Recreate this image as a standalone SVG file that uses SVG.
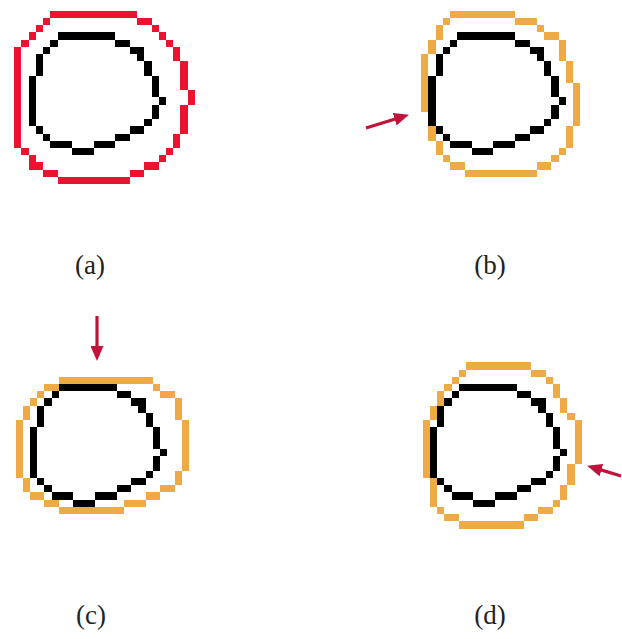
<svg xmlns="http://www.w3.org/2000/svg" width="622" height="639" viewBox="0 0 622 639">
<style>
.blk{fill:#000}
.red{fill:#ec1330}
.org{fill:#f0aa45}
.arr{stroke:#c1123a;stroke-width:3.2;fill:none}
.lbl{font-family:"Liberation Serif","Times New Roman",serif;font-size:27px;fill:#222;text-anchor:middle}
</style>
<defs>
<marker id="ah" markerWidth="15" markerHeight="13" refX="4" refY="6.5" orient="auto" markerUnits="userSpaceOnUse"><path d="M0 0L15 6.5L0 13z" fill="#c1123a"/></marker>
<path id="shape" class="blk" d="M4 0h8v1h-8z M3 1h1v1h-1z M12 1h2v1h-2z M2 2h1v1h-1z M14 2h2v1h-2z M1 3h1v3h-1z M15 3h1v1h-1z M16 4h1v2h-1z M0 6h1v7h-1z M17 6h1v3h-1z M18 9h1v1h-1z M17 10h1v2h-1z M16 12h1v1h-1z M1 13h1v1h-1z M14 13h2v1h-2z M2 14h1v1h-1z M12 14h2v1h-2z M3 15h3v1h-3z M9 15h3v1h-3z M6 16h3v1h-3z"/>
</defs>
<g id="panel-a" transform="translate(28.6,32.3) scale(7.23)" shape-rendering="crispEdges">
<path class="red" d="M3 -3h12v1h-12z M2 -2h1v1h-1z M15 -2h2v1h-2z M1 -1h1v1h-1z M17 -1h1v1h-1z M0 0h1v1h-1z M18 0h1v1h-1z M-1 1h1v1h-1z M19 1h1v1h-1z M-2 2h1v14h-1z M20 2h1v2h-1z M21 4h1v4h-1z M22 8h1v2h-1z M21 10h1v4h-1z M20 14h1v2h-1z M-1 16h1v1h-1z M19 16h1v1h-1z M0 17h1v1h-1z M18 17h1v1h-1z M0 18h2v1h-2z M16 18h2v1h-2z M2 19h2v1h-2z M14 19h2v1h-2z M4 20h10v1h-10z"/>
<use href="#shape"/>
</g>
<g id="panel-b" transform="translate(428.4,32.3) scale(7.23)" shape-rendering="crispEdges">
<path class="org" d="M3 -3h9v1h-9z M2 -2h1v1h-1z M12 -2h3v1h-3z M1 -1h1v2h-1z M15 -1h1v1h-1z M16 0h2v1h-2z M0 1h1v2h-1z M18 1h1v3h-1z M-1 3h1v8h-1z M19 4h1v3h-1z M20 7h1v6h-1z M0 13h1v2h-1z M19 13h1v3h-1z M1 15h1v2h-1z M18 16h1v1h-1z M2 17h1v1h-1z M17 17h1v1h-1z M3 18h2v1h-2z M15 18h2v1h-2z M5 19h10v1h-10z"/>
<use href="#shape"/>
</g>
<g id="panel-c" transform="translate(30,384) scale(7.23)" shape-rendering="crispEdges">
<path class="org" d="M4 -1h13v1h-13z M2 0h2v1h-2z M17 0h1v1h-1z M1 1h1v1h-1z M18 1h2v1h-2z M0 2h1v1h-1z M20 2h1v3h-1z M-1 3h1v2h-1z M-2 5h1v8h-1z M21 5h1v7h-1z M20 12h1v2h-1z M-1 13h1v2h-1z M18 14h2v1h-2z M0 15h2v1h-2z M16 15h2v1h-2z M2 16h2v1h-2z M13 16h3v1h-3z M4 17h9v1h-9z"/>
<use href="#shape"/>
</g>
<g id="panel-d" transform="translate(430,384) scale(7.23)" shape-rendering="crispEdges">
<path class="org" d="M5 -3h9v1h-9z M4 -2h1v1h-1z M14 -2h2v1h-2z M3 -1h1v1h-1z M16 -1h1v1h-1z M2 0h1v1h-1z M17 0h1v2h-1z M1 1h1v2h-1z M18 2h1v2h-1z M0 3h1v2h-1z M19 4h1v1h-1z M-1 5h1v8h-1z M20 5h1v6h-1z M19 11h1v3h-1z M0 13h1v4h-1z M18 14h1v2h-1z M17 16h1v1h-1z M1 17h1v1h-1z M15 17h2v1h-2z M2 18h2v1h-2z M13 18h2v1h-2z M4 19h9v1h-9z"/>
<use href="#shape"/>
</g>
<g id="connectors">
<line class="arr" x1="366" y1="128" x2="398.5" y2="118" marker-end="url(#ah)"/>
<line class="arr" x1="97" y1="316" x2="97" y2="350" marker-end="url(#ah)"/>
<line class="arr" x1="621" y1="476" x2="597.6" y2="468.9" marker-end="url(#ah)"/>
</g>
<g id="labels">
<text class="lbl" x="90" y="274">(a)</text>
<text class="lbl" x="490" y="274">(b)</text>
<text class="lbl" x="91" y="624">(c)</text>
<text class="lbl" x="490" y="624">(d)</text>
</g>
</svg>
